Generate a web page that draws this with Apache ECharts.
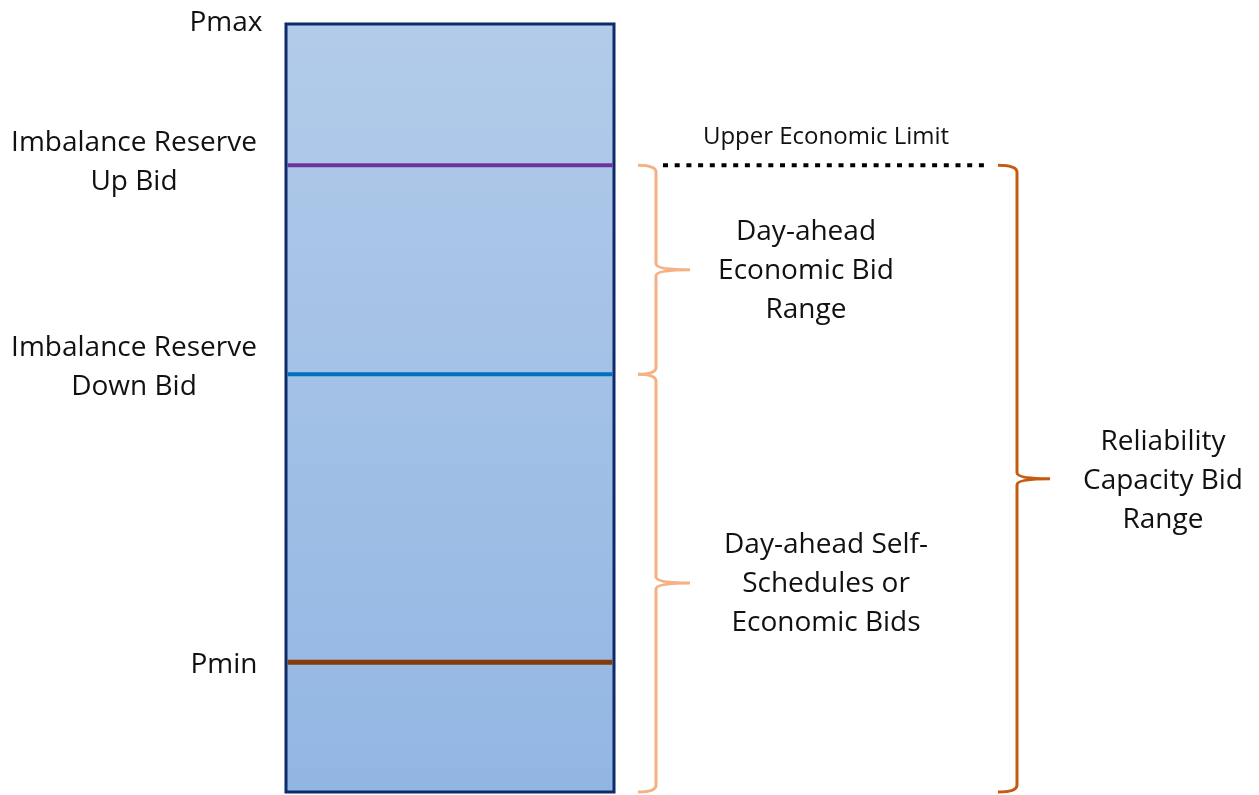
<!DOCTYPE html>
<html><head><meta charset="utf-8">
<script src="https://cdn.jsdelivr.net/npm/echarts@6/dist/echarts.min.js"></script>
<style>html,body{margin:0;padding:0;background:#fff}#c{width:1259px;height:795px}</style>
</head><body><div id="c"></div>
<script>
// Levels on the bid stack (0 = bottom of box, 100 = Pmax)
const levelNames = ['Pmax', 'Imbalance Reserve\nUp Bid', 'Imbalance Reserve\nDown Bid', 'Pmin'];
const levelValues = [100, 81.6, 54.4, 16.9];
const boxBottom = 0;
const levelColors = [null, '#7030a0', '#0070c0', '#843c0c'];

// Brace ranges [top, bottom] and labels
const braceLabels = ['Day-ahead\nEconomic Bid\nRange', 'Day-ahead Self-\nSchedules or\nEconomic Bids', 'Reliability\nCapacity Bid\nRange'];
const braceTops = [81.6, 54.4, 81.6];
const braceBottoms = [54.4, 0, 0];
const limitLabel = 'Upper Economic Limit';
const limitValue = 81.6;

const FONT = '"Open Sans", Lato, sans-serif';
const chart = echarts.init(document.getElementById('c'));

function renderAll(params, api) {
  const Y = v => api.coord([0, v])[1];
  const els = [];
  const bx0 = 286, bx1 = 614;
  // Box
  els.push({type:'rect', shape:{x:bx0, y:Y(100), width:bx1-bx0, height:Y(boxBottom)-Y(100)},
    style:{fill:new echarts.graphic.LinearGradient(0,0,0,1,[{offset:0,color:'#b2cbe9'},{offset:1,color:'#92b6e3'}]),
      stroke:'#0f2a6b', lineWidth:3}});
  // Level lines
  levelValues.forEach((v,i)=>{
    if (levelColors[i]) {
      els.push({type:'line', shape:{x1:bx0+1.5, y1:Y(v), x2:bx1-1.5, y2:Y(v)}, style:{stroke:levelColors[i], lineWidth:i===3?5:4}});
    }
  });
  // Level labels
  const lblX = [226, 134, 134, 224];
  const lblDy = [-1, -3, -7, 3];
  levelValues.forEach((v,i)=>{
    els.push({type:'text', style:{text:levelNames[i], x:lblX[i], y:Y(v)+lblDy[i], align:'center', verticalAlign:'middle',
      font:'28px '+FONT, fill:'#111', lineHeight:39}});
  });
  // Dotted upper economic limit
  els.push({type:'line', shape:{x1:663, y1:Y(limitValue), x2:988, y2:Y(limitValue)}, style:{stroke:'#000', lineWidth:4, lineDash:[5,6.7]}});
  els.push({type:'text', style:{text:limitLabel, x:826, y:Y(limitValue)-28, align:'center', verticalAlign:'middle', font:'24px '+FONT, fill:'#111'}});
  // Braces
  const braceX = [656, 656, 1017];
  const braceColors = ['#f4b183', '#f4b183', '#c55a11'];
  const hook = [18, 18, 19];
  const tip = [34, 34, 33];
  const txtX = [806, 826, 1163];
  const txtDy = [1, 1, 2];
  braceTops.forEach((t,i)=>{
    const y0 = Y(t), y1 = Y(braceBottoms[i]), x = braceX[i], ym = (y0+y1)/2, r = 7;
    const d = `M${x-hook[i]},${y0} Q${x},${y0} ${x},${y0+r} L${x},${ym-6} Q${x},${ym} ${x+tip[i]},${ym} Q${x},${ym} ${x},${ym+6} L${x},${y1-r} Q${x},${y1} ${x-hook[i]},${y1}`;
    els.push({type:'path', shape:{pathData:d}, style:{stroke:braceColors[i], lineWidth:3, fill:null}});
    els.push({type:'text', style:{text:braceLabels[i], x:txtX[i], y:ym+txtDy[i], align:'center', verticalAlign:'middle',
      font:'28px '+FONT, fill:'#111', lineHeight:39}});
  });
  return {type:'group', children:els};
}

chart.setOption({
  animation:false,
  grid:{left:0, right:0, top:24, bottom:3},
  xAxis:{type:'value', min:0, max:100, show:false},
  yAxis:{type:'value', min:0, max:100, show:false},
  series:[{type:'custom', renderItem:renderAll, data:[[0,0]], silent:true}]
});
</script></body></html>
